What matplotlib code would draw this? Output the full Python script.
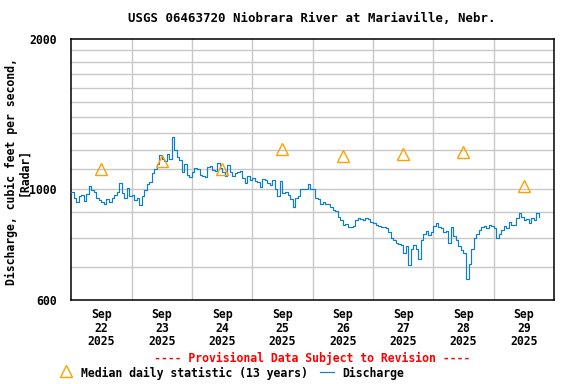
import matplotlib
matplotlib.use("Agg")
import matplotlib.pyplot as plt
import numpy as np
from matplotlib.lines import Line2D
from matplotlib.ticker import FixedLocator, NullFormatter, FixedFormatter

# ---------------- data ----------------
title = "USGS 06463720 Niobrara River at Mariaville, Nebr."
day_labels = ["Sep\n22\n2025", "Sep\n23\n2025", "Sep\n24\n2025", "Sep\n25\n2025",
              "Sep\n26\n2025", "Sep\n27\n2025", "Sep\n28\n2025", "Sep\n29\n2025"]
median_cfs = [1100, 1140, 1100, 1205, 1165, 1176, 1188, 1014]

# hourly discharge (cfs)
q_sep22 = [990, 960, 945, 970, 975, 948, 980, 1015, 995, 990, 960, 950,
           945, 935, 955, 945, 960, 975, 990, 1030, 985, 960, 1005, 970]
q_sep23 = [975, 950, 960, 930, 970, 995, 1025, 1035, 1080, 1100, 1125, 1170,
           1150, 1140, 1175, 1150, 1275, 1200, 1160, 1145, 1085, 1125, 1070, 1060]
q_sep24 = [1085, 1105, 1100, 1070, 1065, 1060, 1110, 1115, 1095, 1090, 1130, 1105,
           1085, 1065, 1120, 1085, 1065, 1080, 1085, 1090, 1055, 1030, 1065, 1045]
q_sep25 = [1055, 1040, 1035, 1010, 1050, 1045, 1030, 1020, 1045, 1000, 970, 1040,
           985, 990, 975, 955, 920, 960, 970, 1000, 1000, 1000, 1025, 1000]
q_sep26 = [1000, 960, 955, 935, 945, 935, 935, 920, 910, 905, 880, 870,
           850, 852, 842, 840, 845, 868, 875, 872, 868, 875, 872, 862]
q_sep27 = [855, 850, 845, 840, 840, 835, 820, 800, 790, 780, 778, 775,
           745, 770, 705, 760, 775, 760, 725, 790, 815, 825, 810, 820]
q_sep28 = [845, 855, 840, 838, 820, 825, 780, 840, 805, 790, 770, 755,
           745, 660, 710, 760, 800, 815, 830, 840, 845, 835, 850, 845]
q_sep29 = [835, 800, 815, 830, 845, 835, 860, 850, 848, 875, 895, 880,
           870, 872, 855, 875, 870, 895, 880]

y_ticks = [600, 1000, 2000]
y_minor = [700, 800, 900, 1100, 1200, 1300, 1400, 1500, 1600, 1700, 1800, 1900]

# ---------------- figure ----------------
FONT = "DejaVu Sans Mono"
plt.rcParams["font.family"] = FONT
plt.rcParams["font.weight"] = "bold"
FS = 8.3

fig = plt.figure(figsize=(5.76, 3.84), dpi=100)
W, H = 576, 384
ax = fig.add_axes([71.3 / W, 1 - 300 / H, (554 - 71.3) / W, (300 - 39.3) / H])

q = np.array(q_sep22 + q_sep23 + q_sep24 + q_sep25 + q_sep26 + q_sep27 + q_sep28 + q_sep29, dtype=float)
t = np.arange(len(q)) / 24.0

ax.set_yscale("log")
ax.set_ylim(600, 2000)
ax.set_xlim(0, 8)

# grid
ax.yaxis.set_major_locator(FixedLocator(y_ticks))
ax.yaxis.set_major_formatter(FixedFormatter([str(v) for v in y_ticks]))
ax.yaxis.set_minor_locator(FixedLocator(y_minor))
ax.yaxis.set_minor_formatter(NullFormatter())
for v in y_minor + [1000]:
    ax.axhline(v, color="#c8c8c8", lw=1.0, zorder=1)
for d in range(1, 8):
    ax.axvline(d, color="#c8c8c8", lw=1.0, zorder=1)

ax.xaxis.set_major_locator(FixedLocator(np.arange(8) + 0.5))
ax.xaxis.set_major_formatter(FixedFormatter(day_labels))
ax.tick_params(axis="both", which="both", length=0)
ax.tick_params(axis="y", pad=10.5, labelsize=FS)
ax.tick_params(axis="x", pad=6, labelsize=FS)
for lab in ax.get_xticklabels():
    lab.set_linespacing(1.05)
    lab.set_fontweight("bold")
for lab in ax.get_yticklabels():
    lab.set_fontweight("bold")

for s in ax.spines.values():
    s.set_linewidth(1.1)
    s.set_color("black")

ax.plot(t, q, color="#0a7fd2", lw=0.85, drawstyle="steps-post", zorder=3)
ax.plot(np.arange(8) + 0.5, median_cfs, linestyle="none", marker="^", ms=8,
        mfc="none", mec="#ffa000", mew=1.0, zorder=4)

fig.text(312 / W, 1 - 19 / H, title, ha="center", va="center", fontsize=8.9,
         fontweight="bold")

fig.text(17.5 / W, 1 - 172 / H, "Discharge, cubic feet per second,\n[Radar]",
         rotation=90, ha="center", va="center", fontsize=FS, fontweight="bold",
         linespacing=0.95, multialignment="center")

fig.text(312 / W, 1 - 358 / H, "---- Provisional Data Subject to Revision ----",
         ha="center", va="center", fontsize=FS, fontweight="bold", color="#ff0000")

# legend
fig.add_artist(Line2D([66 / W], [1 - 371 / H], marker="^", ms=8, mfc="none",
                      mec="#ffa000", mew=1.0, linestyle="none"))
fig.text(81 / W, 1 - 373 / H, "Median daily statistic (13 years)", ha="left",
         va="center", fontsize=FS, fontweight="bold")
fig.add_artist(Line2D([320 / W, 334 / W], [1 - 372 / H, 1 - 372 / H],
                      color="#0a7fd2", lw=0.85))
fig.text(342 / W, 1 - 373 / H, "Discharge", ha="left", va="center", fontsize=FS,
         fontweight="bold")

fig.savefig("out.png", dpi=100)
